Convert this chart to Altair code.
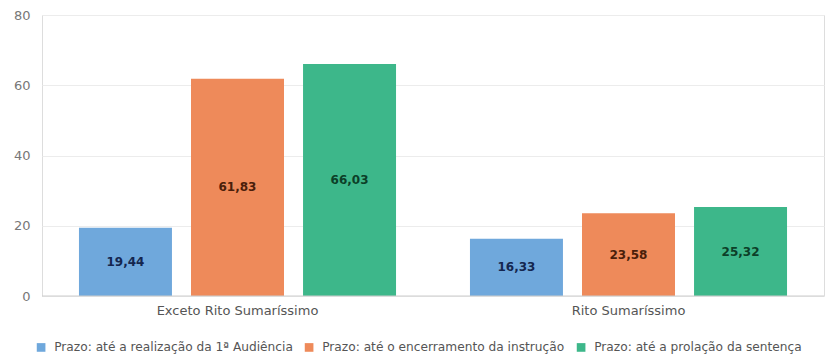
import altair as alt
import pandas as pd

groups = ["Exceto Rito Sumaríssimo", "Rito Sumaríssimo"]
series = [
    "Prazo: até a realização da 1ª Audiência",
    "Prazo: até o encerramento da instrução",
    "Prazo: até a prolação da sentença",
]
values_exceto = [19.44, 61.83, 66.03]
values_rito = [16.33, 23.58, 25.32]
bar_colors = ["#6fa8dc", "#ee8a5a", "#3db78a"]
label_colors = ["#14264f", "#4a1e0a", "#0c3f28"]
y_ticks = [0, 20, 40, 60, 80]

rows = []
for g, vals in zip(groups, [values_exceto, values_rito]):
    for s, v in zip(series, vals):
        rows.append({"grupo": g, "serie": s, "valor": v,
                     "rotulo": f"{v:.2f}".replace(".", ",")})
df = pd.DataFrame(rows)

x = alt.X("grupo:N", sort=groups, title=None,
          scale=alt.Scale(paddingInner=0, paddingOuter=0),
          axis=alt.Axis(labelAngle=0, labelFont="DejaVu Sans", labelFontSize=13,
                        labelColor="#555555", ticks=False, domain=False,
                        labelPadding=8, grid=False))
xoff = alt.XOffset("serie:N", sort=series,
                   scale=alt.Scale(paddingInner=0.17, paddingOuter=0.33))

base = alt.Chart(df)

bars = base.mark_bar().encode(
    x=x,
    xOffset=xoff,
    y=alt.Y("valor:Q", title=None,
            scale=alt.Scale(domain=[0, 80], nice=False),
            axis=alt.Axis(values=y_ticks, labelFont="DejaVu Sans", labelFontSize=13,
                          labelColor="#777777", ticks=False, domain=False,
                          labelPadding=12, gridColor="#ececec")),
    color=alt.Color("serie:N", sort=series,
                    scale=alt.Scale(domain=series, range=bar_colors),
                    legend=alt.Legend(title=None, orient="none", direction="horizontal",
                                      legendX=-7, legendY=326, symbolType="square",
                                      symbolSize=75, symbolStrokeWidth=0,
                                      labelFont="DejaVu Sans", labelFontSize=12.2,
                                      labelColor="#555555", columnPadding=10,
                                      labelLimit=0, symbolOffset=0, labelOffset=7)),
)

baseline = alt.Chart(pd.DataFrame({"v": [0]})).mark_rule(color="#cccccc", strokeWidth=1).encode(
    y="v:Q"
)

labels = base.mark_text(font="DejaVu Sans", fontWeight="bold", fontSize=12).encode(
    x=x,
    xOffset=xoff,
    y=alt.Y("meio:Q"),
    text="rotulo:N",
    color=alt.Color("serie:N", sort=series,
                    scale=alt.Scale(domain=series, range=label_colors), legend=None),
).transform_calculate(meio="datum.valor / 2")

chart = alt.layer(bars, baseline, labels).resolve_scale(color="independent").properties(
    width=782, height=281,
    autosize=alt.AutoSizeParams(type="none"),
    padding={"left": 42, "top": 15, "right": 2, "bottom": 60},
).configure_view(stroke=None).configure(background="white")

chart.save("out.html", embed_options={"renderer": "svg", "actions": False})
